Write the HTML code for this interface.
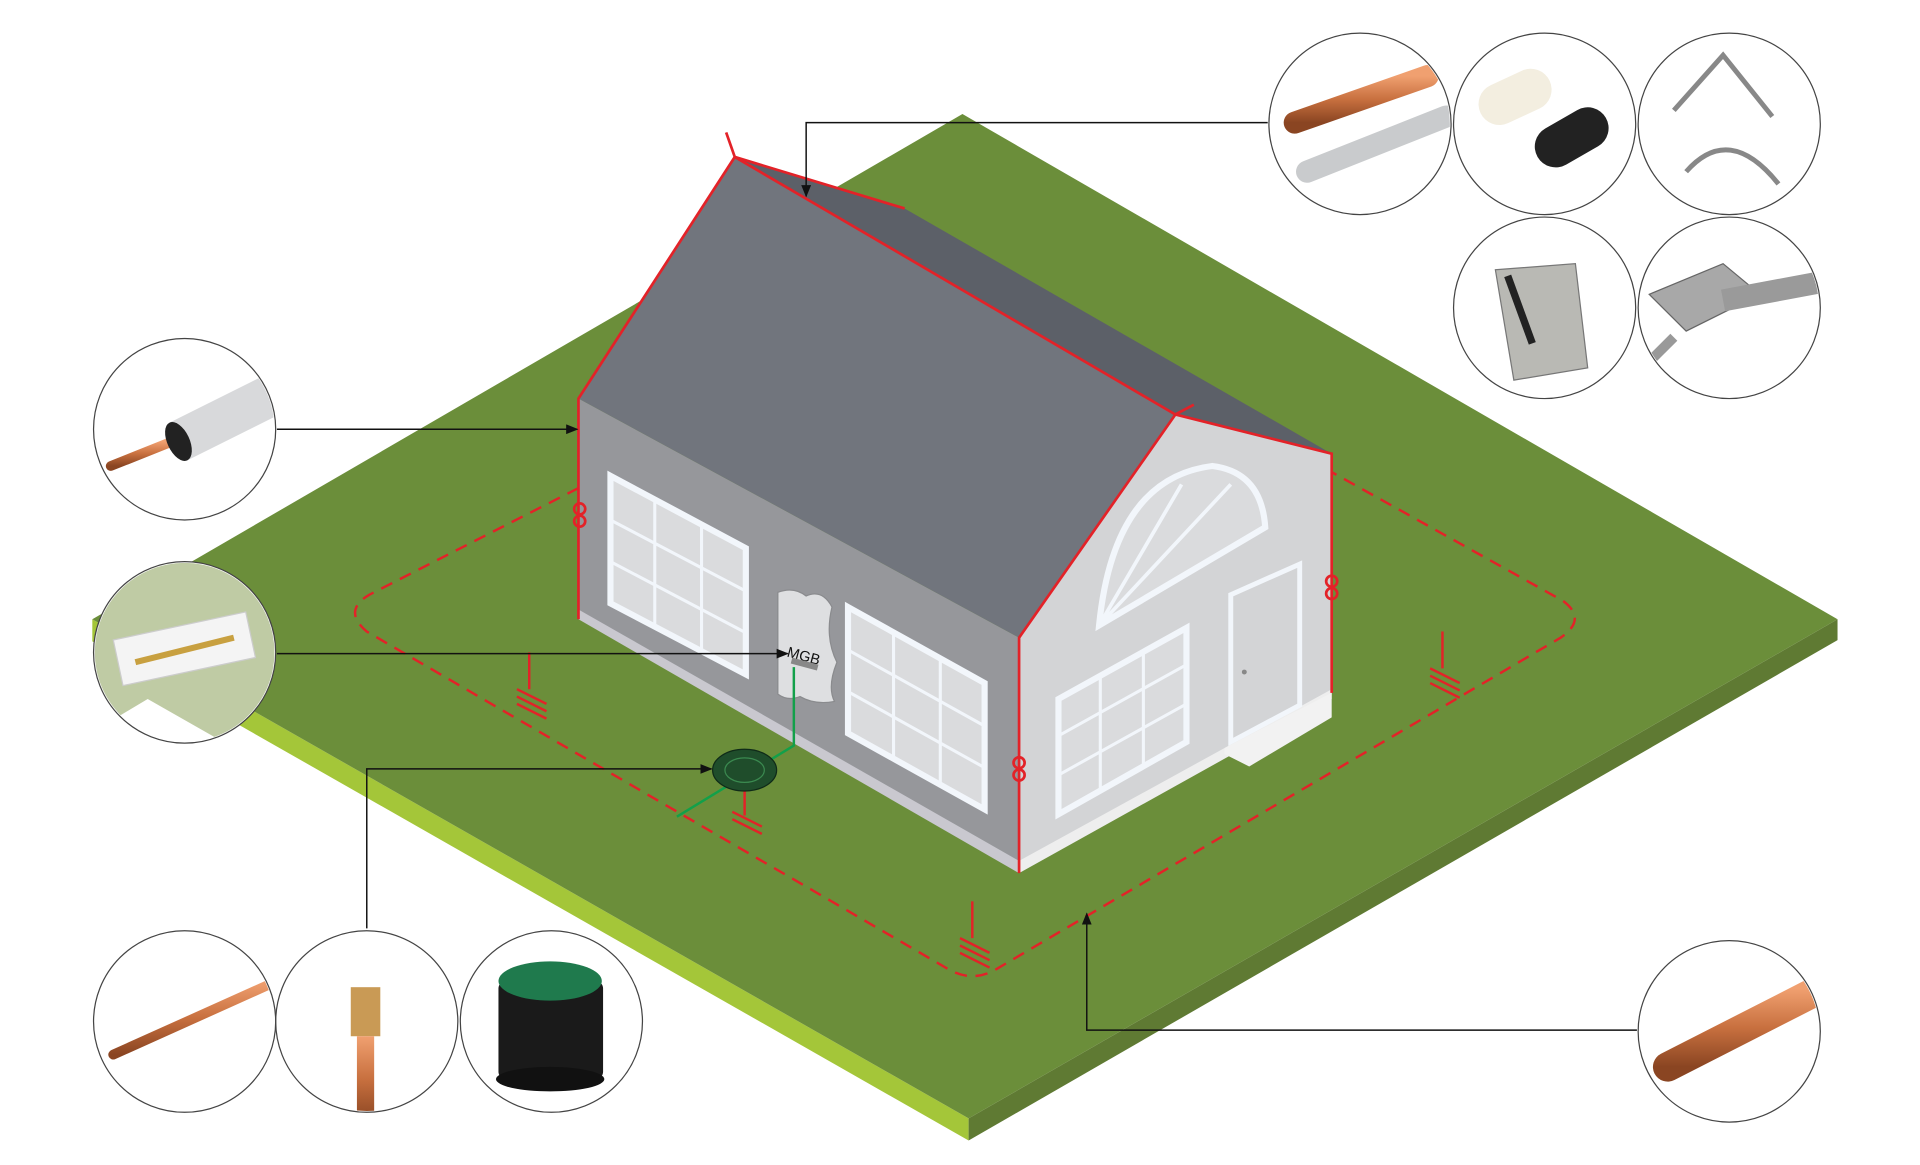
<!DOCTYPE html>
<html><head><meta charset="utf-8"><style>
html,body{margin:0;padding:0;background:#fff;overflow:hidden}
svg{display:block}
</style></head><body>
<svg width="1920" height="1165" viewBox="0 0 1560 950" preserveAspectRatio="none" xmlns="http://www.w3.org/2000/svg" font-family="Liberation Sans, sans-serif">
<defs>
<marker id="ar" markerWidth="10" markerHeight="8" refX="9" refY="4" orient="auto" markerUnits="userSpaceOnUse"><path d="M0,0 L10,4 L0,8 z" fill="#111"/></marker>
<linearGradient id="cu" x1="0" y1="0" x2="0" y2="1"><stop offset="0" stop-color="#f0a070"/><stop offset=".5" stop-color="#c8703f"/><stop offset="1" stop-color="#8a4522"/></linearGradient>
<clipPath id="c1"><circle cx="1105" cy="101" r="73"/></clipPath>
<clipPath id="c2"><circle cx="1255" cy="101" r="73"/></clipPath>
<clipPath id="c3"><circle cx="1405" cy="101" r="73"/></clipPath>
<clipPath id="c4"><circle cx="1255" cy="251" r="73"/></clipPath>
<clipPath id="c5"><circle cx="1405" cy="251" r="73"/></clipPath>
<clipPath id="c6"><circle cx="150" cy="350" r="73"/></clipPath>
<clipPath id="c7"><circle cx="150" cy="532" r="73"/></clipPath>
<clipPath id="c8"><circle cx="150" cy="833" r="73"/></clipPath>
<clipPath id="c9"><circle cx="298" cy="833" r="73"/></clipPath>
<clipPath id="c10"><circle cx="448" cy="833" r="73"/></clipPath>
<clipPath id="c11"><circle cx="1405" cy="841" r="73"/></clipPath>
</defs>
<!-- ground -->
<polygon points="75,505 787,912 787,930 75,523" fill="#a4c639"/>
<polygon points="787,912 1493,505 1493,522 787,930" fill="#5f7a33"/>
<polygon points="782,93 1493,505 787,912 75,505" fill="#6b8e3a"/>
<!-- dashed loop -->
<path d="M470,398 L300,485 Q278,498 298,515 L770,790 Q790,802 810,790 L1268,520 Q1290,505 1270,490 L1082,385" fill="none" stroke="#e32228" stroke-width="2" stroke-dasharray="10,7"/>
<g stroke="#e32228" stroke-width="2" fill="none">
<path d="M430,532 v30 M420,562 l24,12 M420,568 l24,12 M420,574 l24,12"/>
<path d="M1172,515 v30 M1162,545 l24,12 M1162,551 l24,12 M1162,557 l24,12"/>
<path d="M790,735 v30 M780,765 l24,12 M780,771 l24,12 M780,777 l24,12"/>
<path d="M605,640 v25 M595,662 l24,12 M595,668 l24,12"/>
</g>
<!-- house base -->
<polygon points="470,505 828,712 828,700 470,495" fill="#c9c8cf"/>
<polygon points="828,712 1082,570 1082,560 828,700" fill="#eeeeee"/>
<polygon points="470,325 828,520 828,702 470,497" fill="#96979b"/>
<polygon points="828,520 955,338 1082,370 1082,562 828,702" fill="#d3d4d6"/>
<polygon points="597,128 735,170 1082,370 955,338" fill="#5c6068"/>
<polygon points="597,128 955,338 828,520 470,325" fill="#71757d"/>
<g fill="#dadbdd" stroke="#f2f6fb" stroke-width="5">
<polygon points="496,388 606,447 606,550 496,492"/>
<polygon points="689,495 800,557 800,660 689,598"/>
</g>
<g stroke="#f2f6fb" stroke-width="2.5" fill="none">
<path d="M532,407 v104 M570,427 v104 M496,424 L606,482 M496,458 L606,516"/>
<path d="M726,515 v104 M764,536 v104 M689,530 L800,592 M689,564 L800,626"/>
</g>
<path d="M893,510 Q905,390 985,380 Q1025,385 1028,430 Z" fill="#dadbdd" stroke="#f2f6fb" stroke-width="5"/>
<path d="M893,510 L960,395 M893,510 L1000,395 M893,510 L960,470" stroke="#f2f6fb" stroke-width="3"/>
<polygon points="860,570 964,512 964,605 860,664" fill="#dadbdd" stroke="#f2f6fb" stroke-width="5"/>
<path d="M894,551 v94 M929,531 v94 M860,600 L964,542 M860,632 L964,574" stroke="#f2f6fb" stroke-width="2.5"/>
<polygon points="1000,485 1056,460 1056,575 1000,605" fill="#d3d4d6" stroke="#f2f6fb" stroke-width="4"/>
<circle cx="1011" cy="548" r="2" fill="#888"/>
<polygon points="995,610 1082,565 1082,585 1015,625 995,615" fill="#f2f2f2"/>
<path d="M632,483 Q645,478 655,486 Q668,480 676,495 Q670,520 680,540 Q672,560 678,572 Q662,575 650,568 Q640,572 632,566 Z" fill="#dedfe1" stroke="#8a8b8e" stroke-width="1"/>
<text x="640" y="538" font-size="12" fill="#111" transform="rotate(15 650 532)">MGB</text>
<rect x="643" y="538" width="22" height="5" fill="#888" transform="rotate(15 650 540)"/>
<path d="M645,544 V608 L550,666" stroke="#12a04a" stroke-width="2" fill="none"/>
<ellipse cx="605" cy="628" rx="26" ry="17" fill="#1f4d2b" stroke="#0f2a18"/>
<ellipse cx="605" cy="628" rx="16" ry="10" fill="none" stroke="#3b8a50"/>
<g stroke="#e32228" stroke-width="2.2" fill="none">
<path d="M590,108 L597,128 L735,170"/>
<path d="M597,128 L955,338 L1082,370 V565"/>
<path d="M597,128 L470,325 V505"/>
<path d="M955,338 L828,520 V712"/>
<path d="M955,338 l15,-8"/>
<circle cx="471" cy="415" r="4.5"/><circle cx="471" cy="425" r="4.5"/>
<circle cx="1082" cy="474" r="4.5"/><circle cx="1082" cy="484" r="4.5"/>
<circle cx="828" cy="622" r="4.5"/><circle cx="828" cy="632" r="4.5"/>
</g>
<g stroke="#111" stroke-width="1.2" fill="none" marker-end="url(#ar)">
<path d="M1030,100 H655 V160"/>
<path d="M225,350 H469"/>
<path d="M225,533 H640"/>
<path d="M298,757 V627 H578"/>
<path d="M1330,840 H883 V745"/>
</g>
<g fill="#fff">
<circle cx="1105" cy="101" r="74"/><circle cx="1255" cy="101" r="74"/><circle cx="1405" cy="101" r="74"/>
<circle cx="1255" cy="251" r="74"/><circle cx="1405" cy="251" r="74"/>
<circle cx="150" cy="350" r="74"/><circle cx="150" cy="532" r="74"/>
<circle cx="150" cy="833" r="74"/><circle cx="298" cy="833" r="74"/><circle cx="448" cy="833" r="74"/>
<circle cx="1405" cy="841" r="74"/>
</g>
<g clip-path="url(#c1)">
<line x1="1052" y1="100" x2="1160" y2="62" stroke="url(#cu)" stroke-width="18" stroke-linecap="round"/>
<line x1="1062" y1="140" x2="1175" y2="95" stroke="#c9cbcd" stroke-width="18" stroke-linecap="round"/>
</g>
<g clip-path="url(#c2)">
<rect x="1200" y="62" width="62" height="34" rx="17" fill="#f3eee0" transform="rotate(-25 1231 79)"/>
<rect x="1245" y="95" width="64" height="34" rx="17" fill="#222" transform="rotate(-30 1277 112)"/>
</g>
<g clip-path="url(#c3)">
<path d="M1360,90 L1400,45 L1440,95 M1370,140 Q1405,100 1445,150" stroke="#888" stroke-width="4" fill="none"/>
</g>
<g clip-path="url(#c4)">
<path d="M1215,220 L1280,215 L1290,300 L1230,310 Z" fill="#b9b9b4" stroke="#777"/>
<path d="M1225,225 L1245,280" stroke="#222" stroke-width="6"/>
</g>
<g clip-path="url(#c5)">
<path d="M1340,240 L1400,215 L1430,240 L1370,270 Z" fill="#a8a8a8" stroke="#666"/>
<line x1="1400" y1="245" x2="1480" y2="230" stroke="#9a9a9a" stroke-width="18"/>
<path d="M1360,275 L1340,295" stroke="#999" stroke-width="8"/>
</g>
<g clip-path="url(#c6)">
<line x1="90" y1="380" x2="140" y2="360" stroke="url(#cu)" stroke-width="8" stroke-linecap="round"/>
<line x1="145" y1="360" x2="225" y2="320" stroke="#d8d9db" stroke-width="34"/>
<ellipse cx="145" cy="360" rx="9" ry="17" fill="#222" transform="rotate(-25 145 360)"/>
</g>
<g clip-path="url(#c7)">
<path d="M70,455 L224,455 L224,560 L190,610 L120,570 L70,600 Z" fill="#a9ba86" opacity=".75"/>
<rect x="95" y="510" width="110" height="38" fill="#f4f4f4" stroke="#ccc" transform="rotate(-12 150 530)"/>
<line x1="110" y1="540" x2="190" y2="520" stroke="#c8a040" stroke-width="5"/>
</g>
<g clip-path="url(#c8)">
<line x1="92" y1="860" x2="225" y2="800" stroke="url(#cu)" stroke-width="8" stroke-linecap="round"/>
</g>
<g clip-path="url(#c9)">
<line x1="220" y1="830" x2="380" y2="830" stroke="url(#cu)" stroke-width="10"/>
<rect x="285" y="805" width="24" height="40" fill="#c99a55"/>
<rect x="290" y="845" width="14" height="70" fill="url(#cu)"/>
</g>
<g clip-path="url(#c10)">
<rect x="405" y="800" width="85" height="80" rx="6" fill="#1a1a1a"/>
<ellipse cx="447" cy="800" rx="42" ry="16" fill="#1f7a4d"/>
<ellipse cx="447" cy="880" rx="44" ry="10" fill="#111"/>
</g>
<g clip-path="url(#c11)">
<line x1="1355" y1="870" x2="1480" y2="806" stroke="url(#cu)" stroke-width="24" stroke-linecap="round"/>
</g>
<g fill="none" stroke="#444" stroke-width="1">
<circle cx="1105" cy="101" r="74"/><circle cx="1255" cy="101" r="74"/><circle cx="1405" cy="101" r="74"/>
<circle cx="1255" cy="251" r="74"/><circle cx="1405" cy="251" r="74"/>
<circle cx="150" cy="350" r="74"/><circle cx="150" cy="532" r="74"/>
<circle cx="150" cy="833" r="74"/><circle cx="298" cy="833" r="74"/><circle cx="448" cy="833" r="74"/>
<circle cx="1405" cy="841" r="74"/>
</g>
</svg>
</body></html>
